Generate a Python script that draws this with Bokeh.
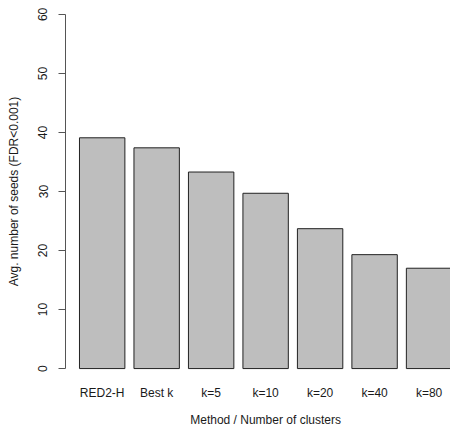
from bokeh.plotting import figure
from bokeh.models import Range1d, FixedTicker, ColumnDataSource, LinearAxis
from bokeh.embed import file_html
from bokeh.resources import INLINE

methods = ["RED2-H", "Best k", "k=5", "k=10", "k=20", "k=40", "k=80"]
avg_seeds = [39.1, 37.4, 33.3, 29.7, 23.7, 19.3, 17.0]
y_ticks = [0, 10, 20, 30, 40, 50, 60]
x_title = "Method / Number of clusters"
y_title = "Avg. number of seeds (FDR<0.001)"

# R barplot geometry: width 1, space 0.2
centers = [0.7 + 1.2 * i for i in range(len(methods))]
src = ColumnDataSource(dict(x=centers, top=avg_seeds, name=methods))

FONT = "Liberation Sans"
TXT = "#1a1a1a"

p = figure(width=450, height=429, output_backend="svg", toolbar_location=None,
           x_range=Range1d(-0.108, 8.372), y_range=Range1d(-2.36, 62.36),
           min_border_left=65, min_border_right=0, min_border_top=0,
           min_border_bottom=45)
p.outline_line_color = None
p.grid.visible = False
p.background_fill_color = "white"
p.border_fill_color = "white"

p.vbar(x="x", top="top", bottom=0, width=1.0, source=src,
       fill_color="#BEBEBE", line_color="#222222", line_width=1)

def style_label_axis(ax, standoff, line_height):
    ax.axis_line_color = None
    ax.major_tick_line_color = None
    ax.minor_tick_line_color = None
    ax.major_tick_in = 0
    ax.major_tick_out = 0
    ax.minor_tick_in = 0
    ax.minor_tick_out = 0
    ax.major_label_text_font = FONT
    ax.major_label_text_font_size = "12px"
    ax.major_label_text_color = TXT
    ax.major_label_text_line_height = line_height
    ax.major_label_standoff = standoff

# x axis: category labels only
xa = p.xaxis[0]
xa.ticker = FixedTicker(ticks=centers)
xa.major_label_overrides = {c: m for c, m in zip(centers, methods)}
style_label_axis(xa, 3, 1.0)

# x axis title centred on the span of the bars (as R does)
x_mid = (centers[0] - 0.5 + centers[-1] + 0.5) / 2
xt = LinearAxis(ticker=FixedTicker(ticks=[x_mid]),
                major_label_overrides={x_mid: x_title})
style_label_axis(xt, 10, 0.8)
p.add_layout(xt, "below")

# y axis
ya = p.yaxis[0]
ya.ticker = FixedTicker(ticks=y_ticks)
ya.bounds = (0, 60)
ya.major_label_orientation = "vertical"
ya.minor_tick_line_color = None
ya.major_tick_in = 0
ya.major_tick_out = 7
ya.axis_line_color = "#555555"
ya.major_tick_line_color = "#555555"
ya.major_label_text_font = FONT
ya.major_label_text_font_size = "12px"
ya.major_label_text_color = TXT
ya.major_label_standoff = 11
ya.axis_label = y_title
ya.axis_label_text_font = FONT
ya.axis_label_text_font_size = "12px"
ya.axis_label_text_font_style = "normal"
ya.axis_label_text_color = TXT
ya.axis_label_standoff = 15

open("out.html", "w").write(file_html(p, INLINE))
